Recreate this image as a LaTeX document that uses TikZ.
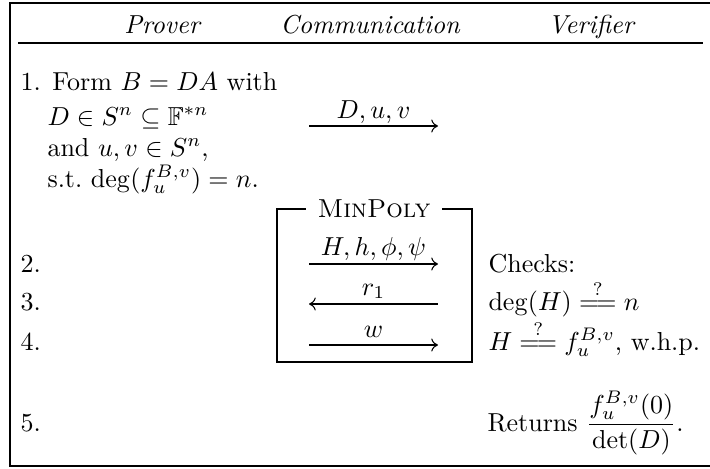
\documentclass[tikz,border=0pt]{standalone}
\usepackage{amsmath,amssymb}
\usetikzlibrary{arrows.meta}
\newcommand{\qeq}{\mathrel{\overset{?}{=\mathrel{\mkern-2mu}=}}}
\begin{document}
\begin{tikzpicture}[x=0.3846pt,y=-0.3846pt,
  txt/.style={inner sep=0pt,anchor=base west},
  hd/.style={inner sep=0pt,anchor=base,font=\itshape},
  lbl/.style={inner sep=0pt,anchor=base},
  msg/.style={line width=0.4pt,-{To[length=2.6pt,width=5pt]}},
  msgl/.style={line width=0.4pt,{To[length=2.6pt,width=5pt]}-},
  thick frame/.style={line width=0.8pt}]
\useasboundingbox (0,0) rectangle (710,468);
% outer frame (right side lies outside the picture)
\draw[thick frame] (720,3) -- (10,3) -- (10,466) -- (720,466);
% header
\node[hd] (hp) at (162,33) {Prover};
\node[hd] (hc) at (370,33) {Communication};
\node[hd] (hv) at (591,33) {Verifier};
\coordinate (rl) at (18,43);
\coordinate (rr) at (703,43);
\draw[line width=0.9pt] (rl) -- (rr);
% step 1
\node[txt] (s1) at (20,90) {1. Form $B=DA$ with};
\node[txt] (s1a) at (47,125) {$D\in S^n\subseteq\mathbb{F}^{*n}$};
\node[txt] (s1b) at (47,156) {and $u,v\in S^n$,};
\node[txt] (s1c) at (47,187) {s.t.\ $\deg(f_u^{B,v})=n$.};
\coordinate (a1s) at (309,126);
\coordinate (a1e) at (438,126);
\draw[msg] (a1s) -- (a1e);
\node[lbl] (l1) at (373.5,118) {$D,u,v$};
% MinPoly box
\coordinate (bx1) at (277,209);
\coordinate (bx2) at (472,362);
\draw[thick frame] (bx1) rectangle (bx2);
\node[fill=white,inner xsep=4.6pt,inner ysep=1pt] (mp) at (374,209) {\textsc{MinPoly}};
\coordinate (a2s) at (309,264);
\coordinate (a2e) at (438,264);
\draw[msg] (a2s) -- (a2e);
\node[lbl] (l2) at (373.5,255) {$H,h,\phi,\psi$};
\coordinate (a3s) at (309,304);
\coordinate (a3e) at (438,304);
\draw[msgl] (a3s) -- (a3e);
\node[lbl] (l3) at (373.5,295) {$r_1$};
\coordinate (a4s) at (309,345);
\coordinate (a4e) at (438,345);
\draw[msg] (a4s) -- (a4e);
\node[lbl] (l4) at (373.5,337) {$w$};
% steps 2-5
\node[txt] (s2) at (20,272) {2.};
\node[txt] (s3) at (20,310) {3.};
\node[txt] (s4) at (20,350) {4.};
\node[txt] (s5) at (20,431) {5.};
% verifier
\node[txt] (v2) at (488,272) {Checks:};
\node[txt] (v3) at (488,310) {$\deg(H)\qeq n$};
\node[txt] (v4) at (488,350) {$H\qeq f_u^{B,v}$, w.h.p.};
\node[txt] (v5) at (487,431) {Returns $\dfrac{f_u^{B,v}(0)}{\det(D)}$.};
\end{tikzpicture}
\end{document}
